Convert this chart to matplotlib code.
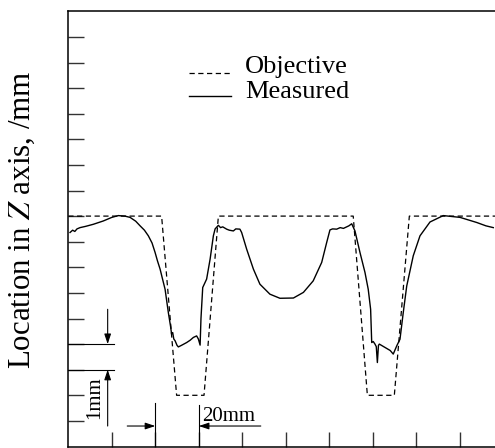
import matplotlib
matplotlib.use('Agg')
import matplotlib.pyplot as plt

plt.rcParams['font.family'] = ['Liberation Serif', 'DejaVu Serif']
plt.rcParams['mathtext.fontset'] = 'stix'

# objective profile (x in mm along the path, z in mm)
obj_x = [0, 42.9, 49.8, 62.4, 69.0, 131.0, 137.5, 149.9, 156.8, 200]
obj_z = [9, 9, 2, 2, 9, 9, 2, 2, 9, 9]

# measured profile
meas_x = [0.8, 2.0, 3.0, 4.0, 5.4, 8, 11.5, 16.1, 20, 23.0, 26, 28.4, 31, 33.0,
          35, 36.8, 38.5, 39.9, 41, 42.2, 43.3, 44.5, 46.0, 47.0, 47.5, 48.0,
          48.5, 49.1, 50.0, 50.6, 52, 54.4, 56, 57.5, 59.0, 59.8, 60.6, 61.0,
          61.8, 63.6, 65.2, 66.7, 67.5, 69.0, 70, 71, 72.8, 74, 75.9, 77, 78.9,
          79.7, 82.0, 85.1, 88.1, 92.7, 97.3, 103.5, 108.1, 112.6, 116.5, 118.8,
          120.3, 121.5, 123.4, 125, 126.5, 128.0, 129, 130.3, 131.8, 134.1,
          136.4, 137.9, 139.0, 139.5, 140.2, 141.0, 141.6, 142.1, 142.6, 143.0,
          144, 145.6, 147, 148, 149.4, 151.0, 152.5, 154.0, 155.6, 158.6, 161.7,
          166.3, 172.4, 180.1, 187.8, 192, 195.4]
meas_z = [8.36, 8.45, 8.40, 8.50, 8.55, 8.60, 8.68, 8.81, 8.95, 9.02, 9.0, 8.95,
          8.80, 8.62, 8.45, 8.23, 7.95, 7.58, 7.25, 6.93, 6.55, 6.14, 5.23, 4.70,
          4.39, 4.45, 4.20, 4.13, 3.95, 3.89, 3.95, 4.06, 4.15, 4.26, 4.32, 4.20,
          3.96, 5.0, 6.21, 6.54, 7.32, 8.23, 8.50, 8.64, 8.55, 8.58, 8.49, 8.45,
          8.42, 8.50, 8.49, 8.36, 7.71, 6.93, 6.34, 5.95, 5.79, 5.80, 6.02, 6.47,
          7.19, 7.97, 8.46, 8.50, 8.49, 8.55, 8.52, 8.58, 8.62, 8.70, 8.42, 7.58,
          6.80, 6.14, 5.36, 4.06, 4.10, 4.00, 3.90, 3.28, 3.95, 4.00, 3.95, 3.87,
          3.80, 3.75, 3.61, 3.93, 4.19, 5.23, 6.27, 7.45, 8.23, 8.77, 9.02, 8.95,
          8.75, 8.62, 8.55]

x_ticks = [20, 40, 60, 80, 100, 120, 140, 160, 180]
z_ticks = list(range(1, 17))

fig = plt.figure(figsize=(4.95, 4.48), dpi=100)
ax = fig.add_axes([68.3 / 495, 1.5 / 448, 435 / 495, 435.2 / 448])
ax.set_xlim(0, 200)
ax.set_ylim(0, 17)

ax.plot(obj_x, obj_z, color='black', lw=0.9, dashes=(4.2, 2.8))
ax.plot(meas_x, meas_z, color='black', lw=1.0)

ax.set_xticks(x_ticks)
ax.set_yticks(z_ticks)
ax.tick_params(direction='in', labelbottom=False, labelleft=False,
               width=1.0, color='#333333')
ax.tick_params(axis='x', length=11)
ax.tick_params(axis='y', length=11.5)
for s in ax.spines.values():
    s.set_linewidth(1.1)

ax.set_ylabel('Location in $Z$ axis, /mm', fontsize=22.3)
ax.yaxis.set_label_coords(-0.071, 0.522)

# legend drawn by hand to match the tight row spacing
ax.plot([55.6, 74.7], [14.60, 14.60], color='black', lw=0.9, dashes=(4.2, 2.8))
ax.plot([55.6, 74.9], [13.68, 13.68], color='black', lw=1.0)
ax.text(81.2, 14.58, 'Objective', fontsize=19, va='baseline')
ax.text(81.2, 13.62, 'Measured', fontsize=19, va='baseline')

# scale markers: 1mm (vertical) and 20mm (horizontal)
ax.plot([0, 21.1], [4, 4], color='black', lw=0.8)
ax.plot([0, 21.1], [3, 3], color='black', lw=0.8)
arrow = dict(arrowstyle='-|>,head_length=0.6,head_width=0.2', color='black',
             lw=0.8, shrinkA=0, shrinkB=0)
ax.annotate('', xy=(18.1, 4), xytext=(18.1, 5.36), arrowprops=arrow)
ax.annotate('', xy=(18.1, 3), xytext=(18.1, 0.80), arrowprops=arrow)
ax.text(12.0, 1.89, '1mm', fontsize=15, rotation=90, ha='center', va='center')

ax.plot([40, 40], [0, 1.69], color='black', lw=0.8)
ax.plot([60, 60], [0, 1.62], color='black', lw=0.8)
ax.annotate('', xy=(40, 0.80), xytext=(27.1, 0.80), arrowprops=arrow)
ax.annotate('', xy=(60, 0.80), xytext=(88.5, 0.80), arrowprops=arrow)
ax.text(61.6, 1.0, '20mm', fontsize=15, va='baseline')

fig.savefig('out.png', dpi=100)
